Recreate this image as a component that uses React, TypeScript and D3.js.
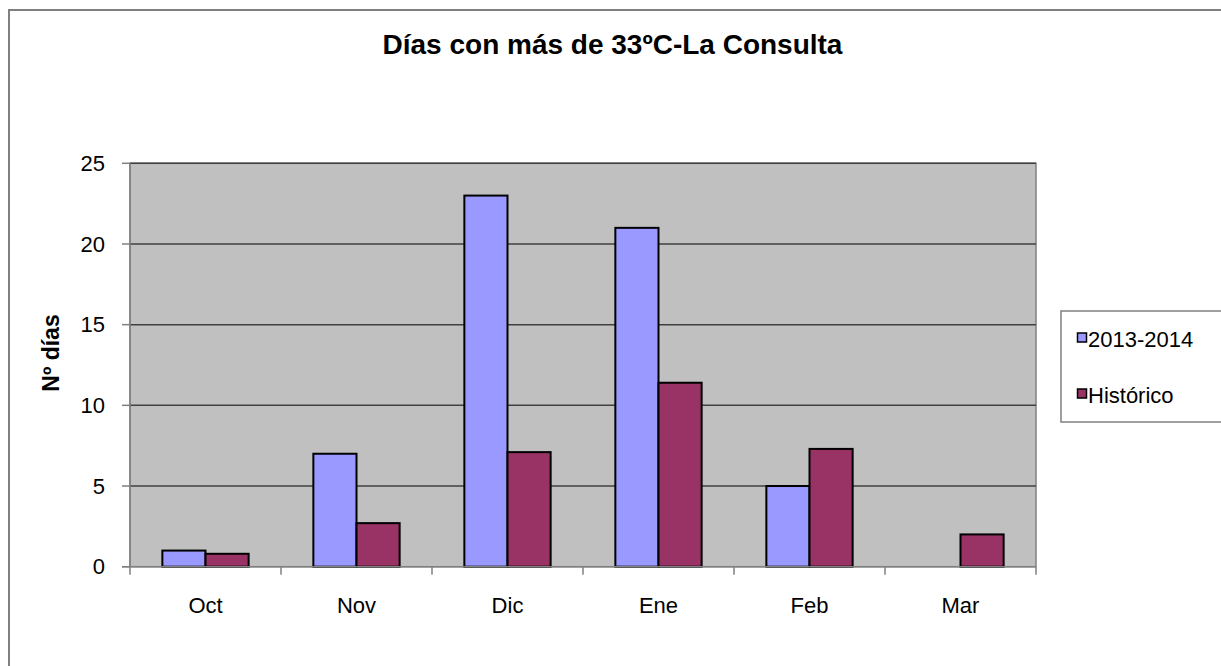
import React from "react";
import * as d3 from "d3";

const categories = ["Oct", "Nov", "Dic", "Ene", "Feb", "Mar"];
const seriesNames = ["2013-2014", "Histórico"];
const values2013 = [1, 7, 23, 21, 5, 0];
const valuesHist = [0.8, 2.7, 7.1, 11.4, 7.3, 2.0];
const yTicks = [0, 5, 10, 15, 20, 25];
const colors = ["#9999FF", "#993366"];

const W = 1221;
const H = 666;
const plot = { left: 130, top: 163.3, right: 1036, bottom: 566.7 };
const FONT = "Arial, 'Liberation Sans', sans-serif";

export default function App() {
  const x = d3
    .scaleBand<string>()
    .domain(categories)
    .range([plot.left, plot.right])
    .paddingInner(0)
    .paddingOuter(0);
  const step = x.step();
  const barW = step / 3.5;
  const inner = d3
    .scaleBand<string>()
    .domain(seriesNames)
    .range([(step - 2 * barW) / 2, (step + 2 * barW) / 2]);
  const y = d3.scaleLinear().domain([0, 25]).range([plot.bottom, plot.top]);
  const data = [values2013, valuesHist];

  const catTicks = d3.range(categories.length + 1).map((i) => plot.left + i * step);

  return (
    <svg
      width={W}
      height={H}
      style={{ position: "absolute", left: 0, top: 0, display: "block" }}
      fontFamily={FONT}
    >
      <rect x={0} y={0} width={W} height={H} fill="#ffffff" />
      {/* outer chart border */}
      <path d={`M9,${H + 5} V10 H${W + 5}`} fill="none" stroke="#808080" strokeWidth={2} />

      {/* title */}
      <text x={612.5} y={54} textAnchor="middle" fontSize={28} fontWeight="bold" fill="#000">
        Días con más de 33ºC-La Consulta
      </text>

      {/* plot area */}
      <rect
        x={plot.left}
        y={plot.top}
        width={plot.right - plot.left}
        height={plot.bottom - plot.top}
        fill="#C0C0C0"
        stroke="#808080"
        strokeWidth={1.5}
      />
      {yTicks.map((t) => (
        <g key={t}>
          {t > 0 && (
            <line
              x1={plot.left}
              x2={plot.right}
              y1={y(t)}
              y2={y(t)}
              stroke="#404040"
              strokeWidth={1.5}
            />
          )}
          <line x1={plot.left - 8} x2={plot.left} y1={y(t)} y2={y(t)} stroke="#808080" strokeWidth={1.5} />
          <text x={105} y={y(t)} dy="0.35em" textAnchor="end" fontSize={22} fill="#000">
            {t}
          </text>
        </g>
      ))}

      {/* bars */}
      {data.map((vals, si) =>
        vals.map((v, ci) =>
          v > 0 ? (
            <rect
              key={`${si}-${ci}`}
              x={(x(categories[ci]) as number) + (inner(seriesNames[si]) as number)}
              y={y(v)}
              width={barW}
              height={y(0) - y(v)}
              fill={colors[si]}
              stroke="#000"
              strokeWidth={2}
            />
          ) : null
        )
      )}

      {/* axes */}
      <line x1={plot.left} x2={plot.left} y1={plot.top} y2={plot.bottom} stroke="#808080" strokeWidth={1.5} />
      <line x1={plot.left - 8} x2={plot.right} y1={plot.bottom} y2={plot.bottom} stroke="#808080" strokeWidth={1.5} />
      {catTicks.map((tx, i) => (
        <line key={i} x1={tx} x2={tx} y1={plot.bottom} y2={plot.bottom + 8} stroke="#808080" strokeWidth={1.5} />
      ))}
      {categories.map((c) => (
        <text
          key={c}
          x={(x(c) as number) + step / 2}
          y={613}
          textAnchor="middle"
          fontSize={22}
          fill="#000"
        >
          {c}
        </text>
      ))}

      {/* y axis title */}
      <text
        transform={`translate(59,353) rotate(-90)`}
        textAnchor="middle"
        fontSize={23}
        fontWeight="bold"
        fill="#000"
      >
        Nº días
      </text>

      {/* legend */}
      <rect x={1061} y={311} width={W} height={111} fill="#fff" stroke="#808080" strokeWidth={1.5} />
      {seriesNames.map((s, i) => (
        <g key={s} transform={`translate(0, ${i * 56})`}>
          <rect x={1077.5} y={333} width={9} height={9} fill={colors[i]} stroke="#000" strokeWidth={1.5} />
          <text x={1088} y={347} fontSize={22} fill="#000">
            {s}
          </text>
        </g>
      ))}
    </svg>
  );
}
